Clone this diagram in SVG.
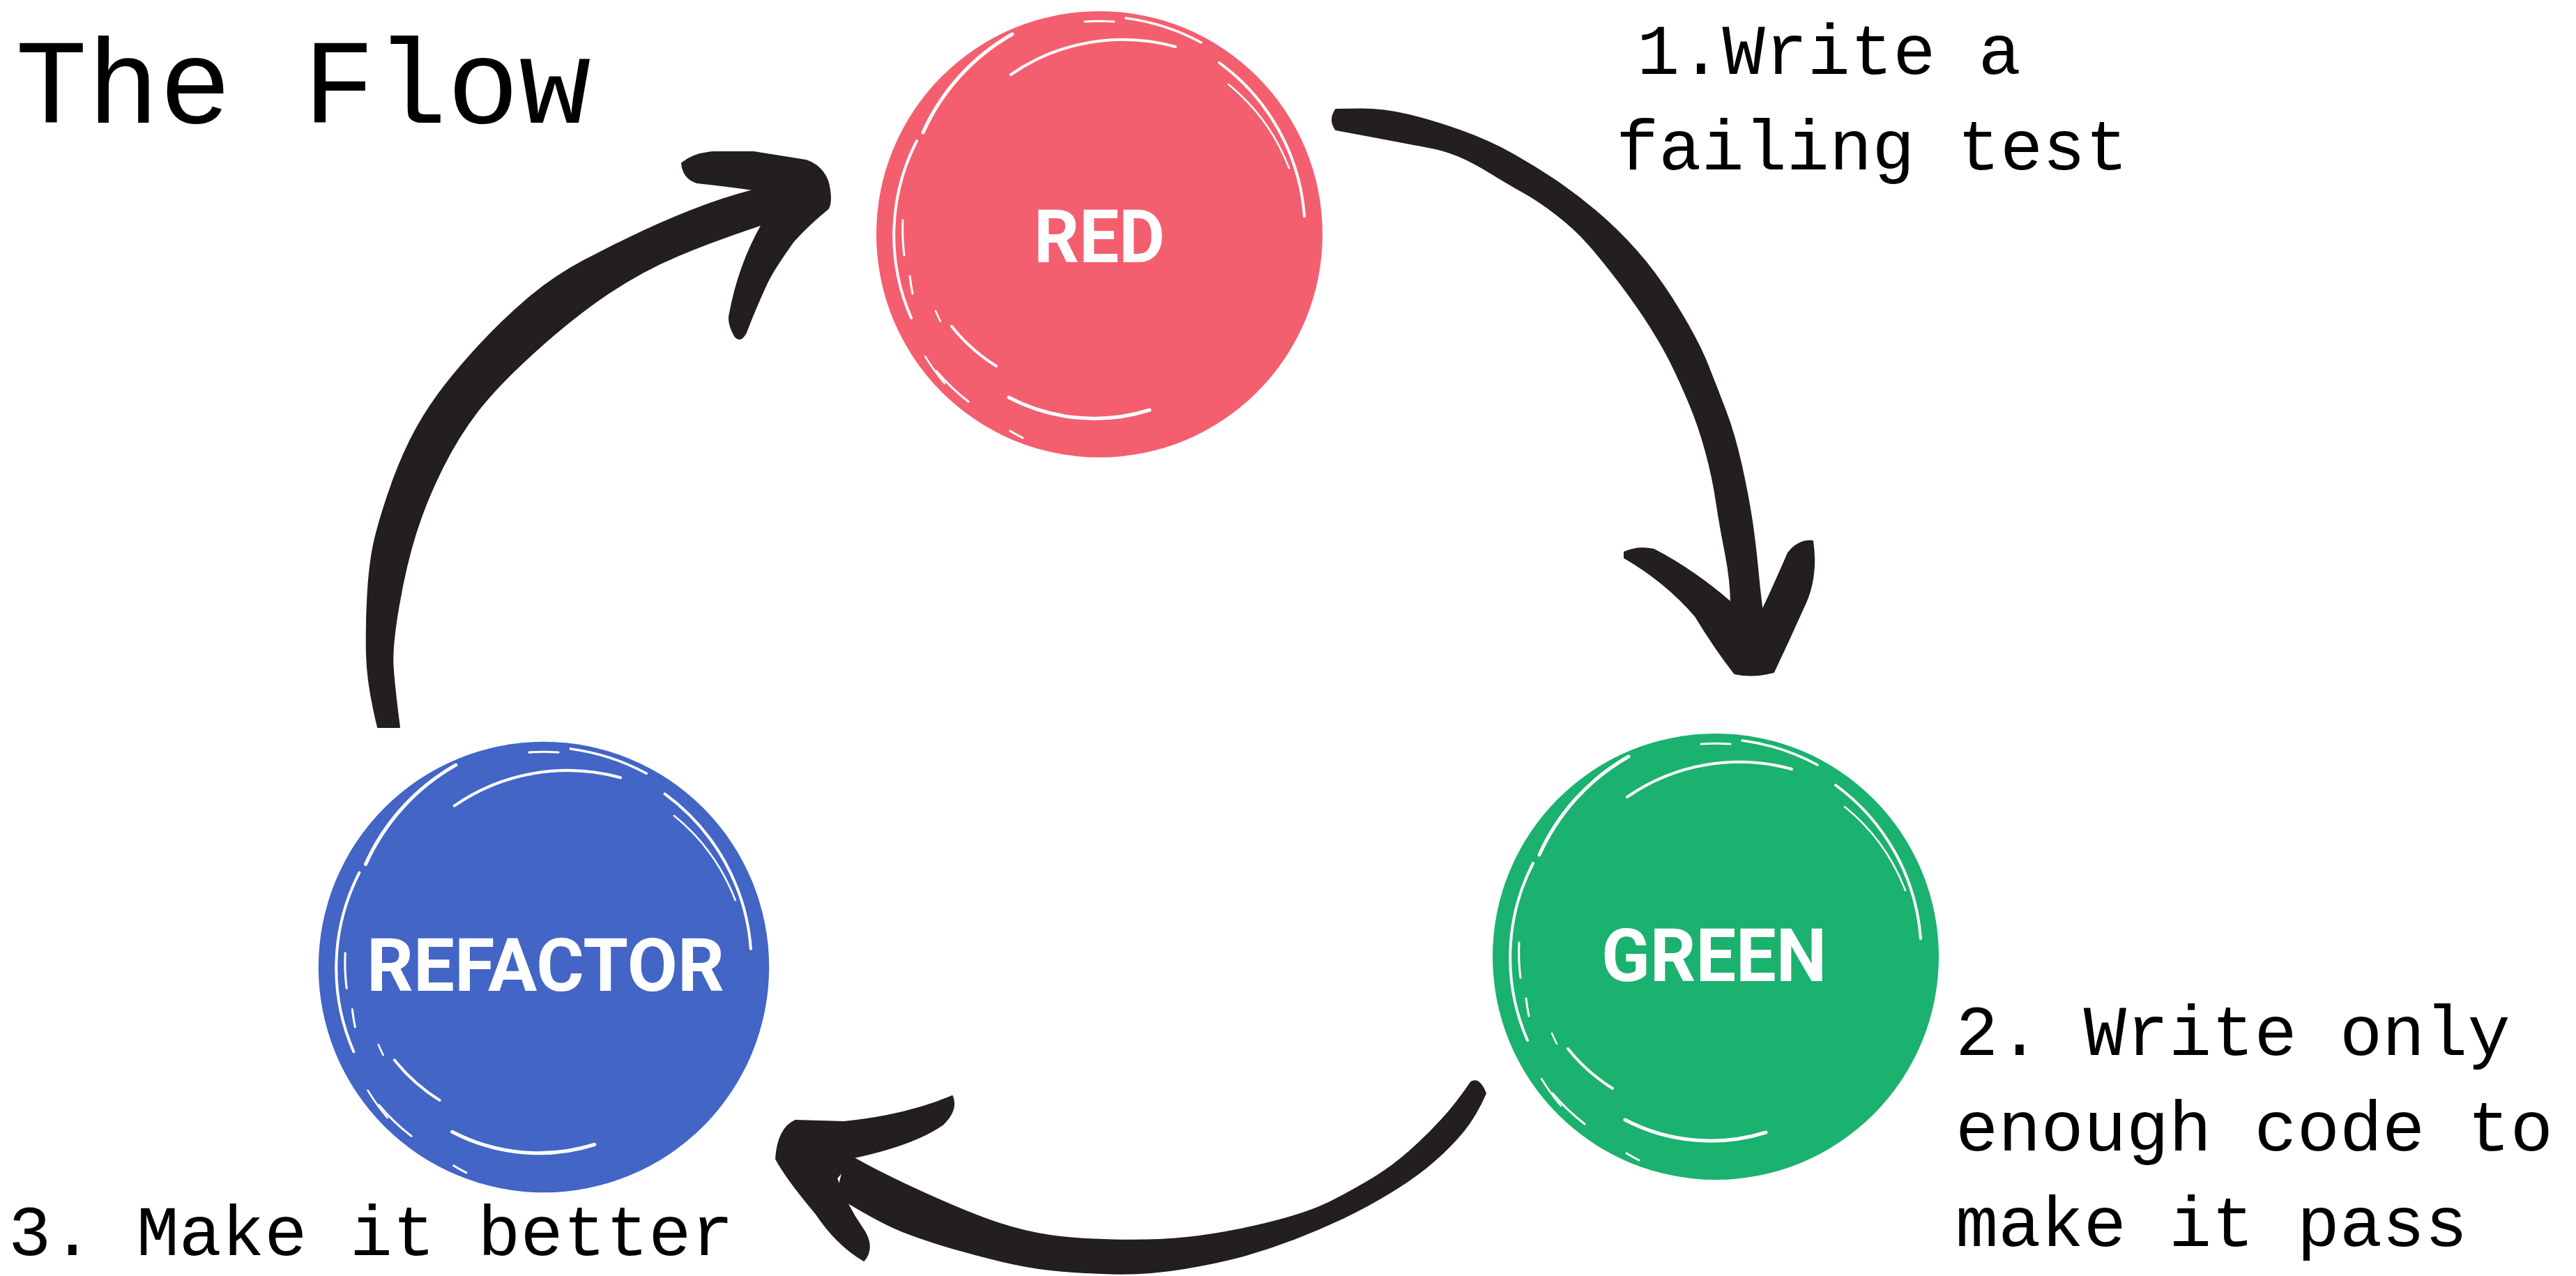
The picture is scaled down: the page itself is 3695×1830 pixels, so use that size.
<svg xmlns="http://www.w3.org/2000/svg" xmlns:xlink="http://www.w3.org/1999/xlink" width="3695" height="1830" viewBox="0 0 3695 1830">
<style>
.mono{font-family:"Liberation Mono","DejaVu Sans Mono",monospace;fill:#000}
.lbl{font-size:102px}
.title{font-size:172px}
.nl{font-family:Roboto,"Liberation Sans",sans-serif;font-weight:700;font-size:106px;fill:#fff}
.streak{fill:none;stroke:#fff;stroke-linecap:round}
.arrow{fill:#231F20;stroke:#231F20;stroke-width:2;stroke-linejoin:round}
</style>
<defs>
<g id="brush">
<circle r="320"/>
<path class="streak" stroke-width="5" d="M -125 -287 A 305 305 0 0 0 -253 -146"/>
<path class="streak" stroke-width="4" d="M -262 -134 A 296 296 0 0 0 -270 120"/>
<path class="streak" stroke-width="3" d="M -282 -20 A 282 282 0 0 0 -280 30"/>
<path class="streak" stroke-width="3" d="M -272 60 A 280 280 0 0 0 -268 85"/>
<path class="streak" stroke-width="4" d="M -127 -229 A 282 282 0 0 1 109 -269"/>
<path class="streak" stroke-width="4" d="M 172 -246 A 300 300 0 0 1 294 -26"/>
<path class="streak" stroke-width="2.5" d="M 185 -215 A 285 285 0 0 1 272 -95"/>
<path class="streak" stroke-width="3" d="M -21 -305 A 306 306 0 0 1 21 -305"/>
<path class="streak" stroke-width="3.5" d="M 38 -310 A 312 312 0 0 1 146 -275"/>
<path class="streak" stroke-width="4" d="M -212 132 A 250 250 0 0 0 -148 189"/>
<path class="streak" stroke-width="5" d="M -130 234 A 265 265 0 0 0 72 252"/>
<path class="streak" stroke-width="3" d="M -234 196 A 305 305 0 0 0 -188 240"/>
<path class="streak" stroke-width="2.5" d="M -250 175 A 305 305 0 0 0 -222 214"/>
<path class="streak" stroke-width="3" d="M -128 282 A 310 310 0 0 0 -110 292"/>
<path class="streak" stroke-width="2.5" d="M -235 110 A 260 260 0 0 0 -228 125"/>
</g>
</defs>
<rect width="3695" height="1830" fill="#fff"/>
<text class="mono title" x="22" y="176">The Flow</text>
<g id="connectors">
<path class="arrow" d="M 1916 157 L 1949.5 156.5 Q 1983 156 2018.5 164.5 Q 2054 173 2095 187.5 Q 2136 202 2171.5 222 Q 2207 242 2240 265 Q 2273 288 2304 316 Q 2335 344 2360.5 375.5 Q 2386 407 2411.5 449.5 Q 2437 492 2449.5 523.5 Q 2462 555 2475 589 Q 2488 623 2498 668.5 Q 2508 714 2513 748 Q 2518 782 2522 824.5 Q 2526 867 2532 905 L 2483 905 L 2483 869 Q 2483 833 2475 793 Q 2467 753 2462 719 Q 2457 685 2447 648 Q 2437 611 2424 580 Q 2411 549 2398.5 523.5 Q 2386 498 2368 469.5 Q 2350 441 2324.5 407 Q 2299 373 2278.5 350 Q 2258 327 2232.5 307.5 Q 2207 288 2186.5 276.5 Q 2166 265 2128 242 Q 2090 219 2054 212 Q 2018 205 1967 195.5 L 1916 186 Q 1906 172 1916 157 Z"/>
<path class="arrow" d="M 2330 792 Q 2350 783 2372 788 Q 2430 818 2485 866 L 2529 873 Q 2550 828 2565 793 Q 2580 774 2600 776 Q 2608 830 2586 873 Q 2565 920 2544 964 Q 2515 972 2488 966 Q 2460 930 2432 884 Q 2390 835 2330 800 Z"/>
<path class="arrow" d="M 2131 1568 Q 2117 1600 2099.5 1621.5 Q 2082 1643 2057 1665 Q 2032 1687 1997 1708.5 Q 1962 1730 1927 1746.5 Q 1892 1763 1857 1776.5 Q 1822 1790 1787 1800 Q 1752 1810 1699 1819 Q 1646 1828 1593.5 1826.5 Q 1541 1825 1506 1821 Q 1471 1817 1436 1808.5 Q 1401 1800 1366 1790 Q 1331 1780 1296 1766.5 Q 1261 1753 1200 1715 L 1215 1655 Q 1261 1682 1327.5 1712 Q 1394 1742 1432.5 1754.5 Q 1471 1767 1506 1772 Q 1541 1777 1597 1778.5 Q 1653 1780 1702.5 1775 Q 1752 1770 1815 1755 Q 1878 1740 1913 1721.5 Q 1948 1703 1972.5 1688 Q 1997 1673 2021.5 1651.5 Q 2046 1630 2067.5 1606.5 Q 2089 1583 2110 1552 Q 2122 1545 2131 1568 Z"/>
<path class="arrow" d="M 1113 1662 Q 1116 1618 1141 1607 L 1211 1609 Q 1300 1600 1366 1572 Q 1374 1592 1352 1613 Q 1310 1642 1225 1660 L 1200 1690 Q 1215 1730 1236 1760 Q 1256 1788 1239 1808 Q 1200 1785 1170 1740 Q 1128 1690 1113 1662 Z"/>
<path class="arrow" d="M 542 1043 Q 527 982 526 939 Q 525 896 527.5 853 Q 530 810 536 781.5 Q 542 753 556.5 710 Q 571 667 588 632.5 Q 605 598 628 566.5 Q 651 535 685.5 497.5 Q 720 460 757 428.5 Q 794 397 837.5 374 Q 881 351 924 331 Q 967 311 1010 295 Q 1053 279 1100 268 L 1110 315 L 1093 322 Q 1024 345 972.5 366.5 Q 921 388 872 421 Q 823 454 768.5 503 Q 714 552 685.5 589 Q 657 626 634 672 Q 611 718 596.5 764 Q 582 810 572 867.5 Q 562 925 563.5 953.5 Q 565 982 573 1043 Z"/>
<path class="arrow" d="M 978 234 Q 995 220 1024 218 L 1081 218 L 1156 230 Q 1180 238 1188 262 Q 1194 288 1188 299 Q 1160 322 1139 345 Q 1110 385 1099 408 Q 1080 450 1070 477 Q 1062 492 1054 482 Q 1043 462 1047 449 Q 1060 380 1093 322 L 1087 273 Q 1040 266 1000 262 Q 980 256 978 234 Z"/>
</g>
<g id="node-red">
<use xlink:href="#brush" href="#brush" transform="translate(1577,336)" fill="#F35F6F"/>
<text class="nl" x="1483" y="376" textLength="188" lengthAdjust="spacingAndGlyphs">RED</text>
</g>
<g id="node-green">
<use xlink:href="#brush" href="#brush" transform="translate(2461,1372)" fill="#1BB16F"/>
<text class="nl" x="2297" y="1407" textLength="323" lengthAdjust="spacingAndGlyphs">GREEN</text>
</g>
<g id="node-refactor">
<use xlink:href="#brush" href="#brush" transform="translate(780,1387) scale(1.01)" fill="#4265C6"/>
<text class="nl" x="526" y="1421" textLength="513" lengthAdjust="spacingAndGlyphs">REFACTOR</text>
</g>
<g id="annotations">
<text class="mono lbl" x="2348" y="106">1.Write a</text>
<text class="mono lbl" x="2318" y="243">failing test</text>
<text class="mono lbl" x="2805" y="1513">2. Write only</text>
<text class="mono lbl" x="2805" y="1650">enough code to</text>
<text class="mono lbl" x="2805" y="1787">make it pass</text>
<text class="mono lbl" x="12" y="1800">3. Make it better</text>
</g>
</svg>
